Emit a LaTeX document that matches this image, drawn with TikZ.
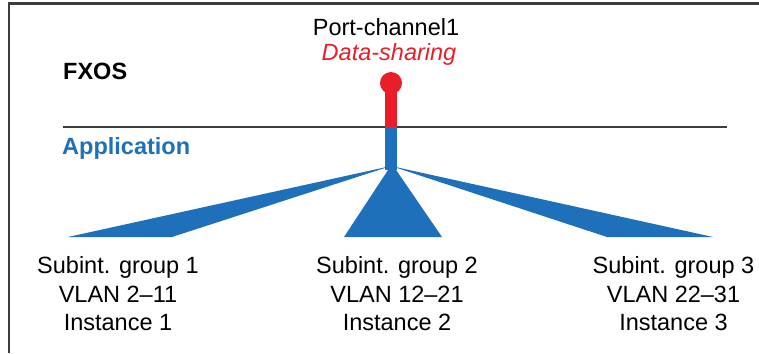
\documentclass[tikz,border=0pt]{standalone}
\usepackage{fontspec}
\setmainfont{Liberation Sans}
\definecolor{appblue}{RGB}{31,112,186}
\definecolor{linkred}{RGB}{234,30,40}
\definecolor{rulegray}{RGB}{60,60,60}
\tikzset{
  txt/.style={font=\fontsize{23.5}{28.5}\selectfont, inner sep=0pt},
  grp/.style={txt, align=center, anchor=north},
  layer/.style={txt, font=\fontsize{23.5}{28.5}\selectfont\bfseries, anchor=base west},
}
\begin{document}
\begin{tikzpicture}[x=1pt,y=-1pt]
\useasboundingbox (0,0) rectangle (759,353);
% frame
\draw [rulegray, line width=3pt] (8,4) -- (759,4);
\draw [rulegray, line width=2pt] (9,4) -- (9,353);
% layer rule
\draw [rulegray, line width=2.5pt] (63,127) coordinate (ruleL) -- (727,127) coordinate (ruleR);
\node [layer] (fxos) at (63,79) {FXOS};
\node [layer, appblue] (app) at (62,154) {Application};
% port-channel labels
\node [txt, anchor=base] (pc) at (386,36) {Port-channel1};
\node [txt, anchor=base, linkred, font=\fontsize{23.5}{28.5}\selectfont\itshape] (ds) at (389,60) {Data-sharing};
% fan-out to the subinterface groups
\coordinate (hub) at (391,166);
\fill [appblue] (hub) -- (68,237) -- (172,237) -- cycle;
\fill [appblue] (hub) -- (607,237) -- (713,237) -- cycle;
\fill [appblue] (392,164) -- (344,237) -- (442,237) -- cycle;
% trunk
\fill [appblue] (385,127) rectangle (397,170);
\fill [linkred] (385,83) rectangle (397,127);
\fill [linkred] (391,83) circle [radius=11];
% groups
\node [grp] (grp1) at (118,256.5) {Subint. group 1\\VLAN 2--11\\Instance 1};
\node [grp] (grp2) at (397,256.5) {Subint. group 2\\VLAN 12--21\\Instance 2};
\node [grp] (grp3) at (673.5,256.5) {Subint. group 3\\VLAN 22--31\\Instance 3};
\end{tikzpicture}
\end{document}
